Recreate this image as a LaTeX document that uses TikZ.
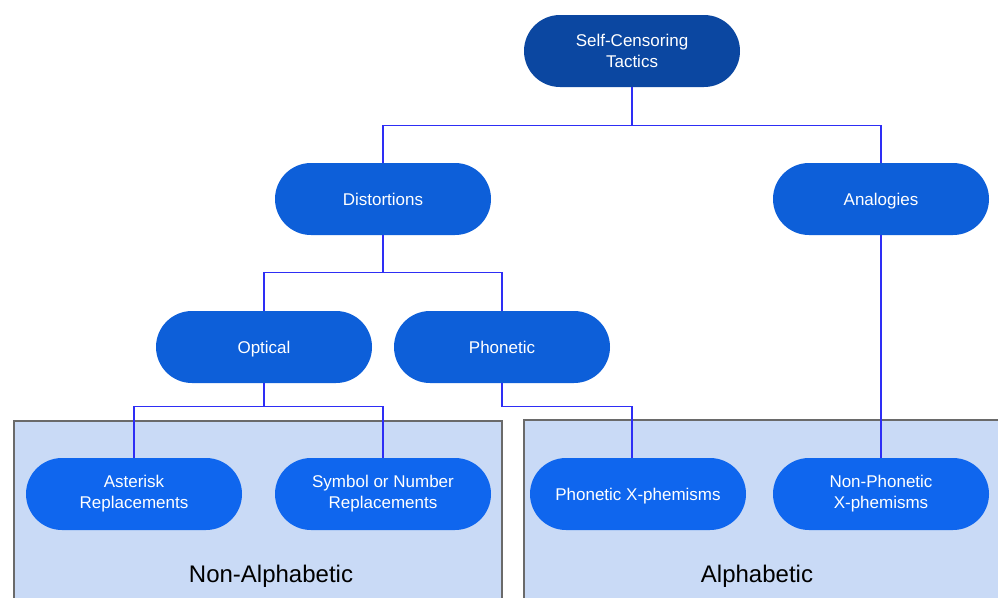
\documentclass[tikz,border=0pt]{standalone}
\usepackage{fontspec}
\setmainfont{Liberation Sans}
\definecolor{topblue}{HTML}{0B47A1}
\definecolor{nodeblue}{HTML}{0D5FD9}
\definecolor{leafblue}{HTML}{0F66EE}
\definecolor{linkblue}{HTML}{2E2EF5}
\definecolor{groupfill}{HTML}{C9DAF6}
\definecolor{groupline}{HTML}{6A6A6A}
\newcommand{\oneline}[1]{\strut\raisebox{-2pt}[0pt][0pt]{#1}}
\begin{document}
\begin{tikzpicture}[x=1pt,y=-1pt,
  pill/.style={draw=none, fill=nodeblue, text=white, rounded corners=36pt,
    minimum width=216pt, minimum height=72pt, inner sep=0pt, align=center,
    font=\fontsize{17}{21}\selectfont},
  toppill/.style={pill, fill=topblue},
  leafpill/.style={pill, fill=leafblue},
  group/.style={draw=groupline, fill=groupfill, line width=2pt},
  grouplabel/.style={text=black, font=\fontsize{24}{28}\selectfont},
  link/.style={draw=linkblue, line width=1.4pt}
]
\clip (0,0) rectangle (998,597);
\fill[white] (0,0) rectangle (998,597);
% groups
\draw[group] (14,421) rectangle (502,620);
\draw[group] (524,420) rectangle (1010,620);
\node[grouplabel] (lblnon) at (271,576) {Non-Alphabetic};
\node[grouplabel] (lblalpha) at (757,576) {Alphabetic};
% nodes
\node[toppill] (top) at (632,51) {Self-Censoring\\Tactics};
\node[pill] (dist) at (383,199) {\oneline{Distortions}};
\node[pill] (anal) at (881,199) {\oneline{Analogies}};
\node[pill] (opt) at (264,347) {\oneline{Optical}};
\node[pill] (phon) at (502,347) {\oneline{Phonetic}};
\node[leafpill] (ast) at (134,494) {Asterisk\\Replacements};
\node[leafpill] (sym) at (383,494) {Symbol or Number\\Replacements};
\node[leafpill] (phx) at (638,494) {\oneline{Phonetic X-phemisms}};
\node[leafpill] (nphx) at (881,494) {Non-Phonetic\\X-phemisms};
% connectors
\draw[link] (top.south) -- ++(0,38) -| (dist.north);
\draw[link] (top.south) -- ++(0,38) -| (anal.north);
\draw[link] (dist.south) -- ++(0,37) -| (opt.north);
\draw[link] (dist.south) -- ++(0,37) -| (phon.north);
\draw[link] (opt.south) -- ++(0,23) -| (ast.north);
\draw[link] (opt.south) -- ++(0,23) -| (sym.north);
\draw[link] (phon.south) -- ++(0,23) -| ([xshift=-6pt]phx.north);
\draw[link] (anal.south) -- (nphx.north);
\end{tikzpicture}
\end{document}
